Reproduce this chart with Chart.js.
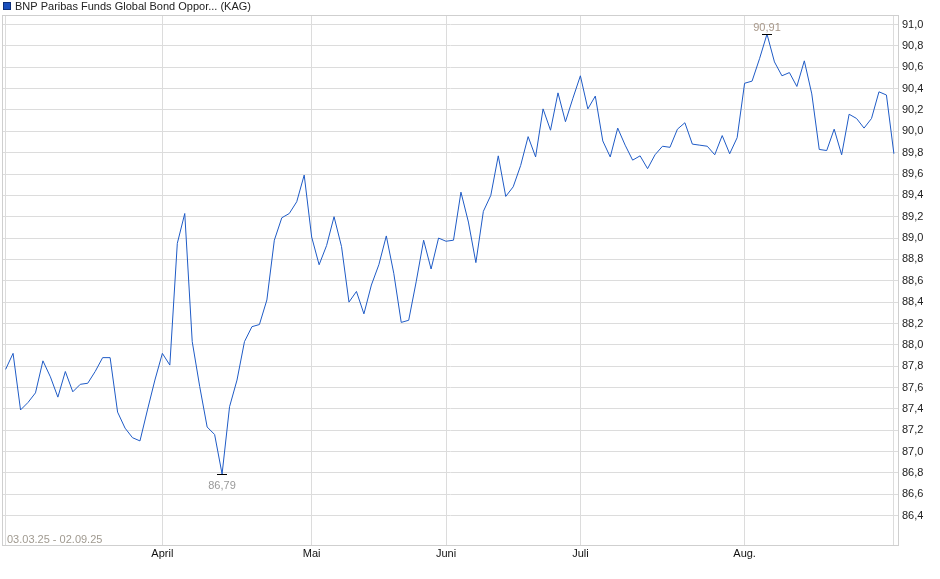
<!DOCTYPE html>
<html>
<head>
<meta charset="utf-8">
<script src="https://cdn.jsdelivr.net/npm/chart.js@4/dist/chart.umd.min.js"></script>
<style>
  html, body { margin: 0; padding: 0; background: #fff; }
  #wrap { position: relative; width: 940px; height: 579px; }
</style>
</head>
<body>
<div id="wrap"><canvas id="chart" width="940" height="579"></canvas></div>
<script>
// Series: daily prices 03.03.25 - 02.09.25 (one value per trading day)
const seriesName = 'BNP Paribas Funds Global Bond Oppor... (KAG)';
const rangeLabel = '03.03.25 - 02.09.25';
const prices = [
  87.77, 87.92, 87.39, 87.46, 87.55, 87.85, 87.70, 87.51, 87.75, 87.56,
  87.63, 87.64, 87.75, 87.88, 87.88, 87.37, 87.22, 87.13, 87.10, 87.39,
  87.67, 87.92, 87.81, 88.95, 89.23, 88.03, 87.61, 87.23, 87.16, 86.79,
  87.42, 87.67, 88.03, 88.17, 88.19, 88.42, 88.98, 89.19, 89.23, 89.34,
  89.59, 89.01, 88.75, 88.93, 89.20, 88.92, 88.40, 88.50, 88.29, 88.56,
  88.75, 89.02, 88.67, 88.21, 88.23, 88.59, 88.98, 88.71, 89.00, 88.97,
  88.98, 89.43, 89.15, 88.77, 89.25, 89.40, 89.77, 89.39, 89.48, 89.68,
  89.95, 89.76, 90.21, 90.01, 90.36, 90.09, 90.31, 90.52, 90.21, 90.33,
  89.91, 89.76, 90.03, 89.87, 89.73, 89.77, 89.65, 89.78, 89.86, 89.85,
  90.02, 90.08, 89.88, 89.87, 89.86, 89.78, 89.96, 89.79, 89.94, 90.45,
  90.47, 90.68, 90.91, 90.65, 90.52, 90.55, 90.42, 90.66, 90.35, 89.83,
  89.82, 90.02, 89.78, 90.16, 90.12, 90.03, 90.12, 90.37, 90.34, 89.79
];

// Index of the first trading day of each month shown on the axis
const monthIdx = [21, 41, 59, 77, 99];
const monthNames = ['April', 'Mai', 'Juni', 'Juli', 'Aug.'];

// Price axis ticks
const yTicks = [];
for (let i = 0; i <= 23; i++) yTicks.push(Math.round((86.4 + i * 0.2) * 10) / 10);

const points = prices.map((p, i) => ({ x: i, y: p }));
const fmt = v => v.toFixed(2).replace('.', ',');

// Frame, legend, range text and high/low marks
const extras = {
  id: 'extras',
  afterDraw(chart) {
    const { ctx, chartArea: a, scales } = chart;
    const xs = scales.x, ys = scales.y;
    ctx.save();

    ctx.strokeStyle = '#cfcfcf';
    ctx.lineWidth = 1;
    ctx.strokeRect(a.left - 0.5, a.top - 0.5, a.right - a.left + 1, a.bottom - a.top + 1);

    // legend
    ctx.fillStyle = '#1a4fbd';
    ctx.fillRect(3, 2, 8, 8);
    ctx.strokeStyle = '#0d2f7a';
    ctx.strokeRect(3.5, 2.5, 7, 7);
    ctx.fillStyle = '#222';
    ctx.font = '11px "Liberation Sans", Arial, sans-serif';
    ctx.textBaseline = 'middle';
    ctx.textAlign = 'left';
    ctx.fillText(seriesName, 15, 6.5);

    // range text
    ctx.fillStyle = '#a09a90';
    ctx.font = '11px "Liberation Sans Narrow", "Liberation Sans", Arial, sans-serif';
    ctx.textBaseline = 'alphabetic';
    ctx.fillText(rangeLabel, 7, 543);

    // high / low
    let hi = 0, lo = 0;
    prices.forEach((p, i) => {
      if (p > prices[hi]) hi = i;
      if (p < prices[lo]) lo = i;
    });
    ctx.strokeStyle = '#000';
    ctx.lineWidth = 1;
    ctx.font = '11px "Liberation Sans", Arial, sans-serif';
    ctx.textAlign = 'center';
    [[hi, -1], [lo, 1]].forEach(([i, dir]) => {
      const px = Math.round(xs.getPixelForValue(i));
      const py = Math.round(ys.getPixelForValue(prices[i])) + 0.5;
      ctx.beginPath();
      ctx.moveTo(px - 5, py);
      ctx.lineTo(px + 5, py);
      ctx.stroke();
      ctx.fillStyle = dir < 0 ? '#a8988a' : '#999';
      ctx.textBaseline = 'middle';
      ctx.fillText(fmt(prices[i]), px, py + (dir < 0 ? -7 : 11));
    });
    ctx.restore();
  }
};

new Chart(document.getElementById('chart'), {
  type: 'line',
  data: {
    datasets: [{
      label: seriesName,
      data: points,
      borderColor: '#1f5bc6',
      borderWidth: 1,
      pointRadius: 0,
      tension: 0,
      fill: false
    }]
  },
  options: {
    responsive: false,
    animation: false,
    layout: { padding: { left: 3, top: 16, right: 0, bottom: 0 } },
    plugins: { legend: { display: false }, tooltip: { enabled: false } },
    scales: {
      x: {
        type: 'linear',
        min: -0.35,
        max: 119.55,
        afterBuildTicks: axis => {
          axis.ticks = [0].concat(monthIdx, [prices.length - 1]).map(v => ({ value: v }));
        },
        afterFit: axis => { axis.height = 34; },
        grid: { color: '#dcdcdc', drawTicks: false },
        border: { color: '#cfcfcf' },
        ticks: {
          autoSkip: false,
          maxRotation: 0,
          padding: 2,
          color: '#111',
          font: { size: 11, family: '"Liberation Sans Narrow", "Liberation Sans", Arial, sans-serif' },
          callback: v => {
            const i = monthIdx.indexOf(v);
            return i >= 0 ? monthNames[i] : '';
          }
        }
      },
      y: {
        position: 'right',
        min: 86.125,
        max: 91.08,
        afterBuildTicks: axis => { axis.ticks = yTicks.map(v => ({ value: v })); },
        afterFit: axis => { axis.width = 42; },
        grid: { color: '#dcdcdc', drawTicks: false },
        border: { color: '#cfcfcf' },
        ticks: {
          padding: 4,
          color: '#222',
          font: { size: 11, family: '"Liberation Sans", Arial, sans-serif' },
          callback: v => v.toFixed(1).replace('.', ',')
        }
      }
    }
  },
  plugins: [extras]
});
</script>
</body>
</html>
